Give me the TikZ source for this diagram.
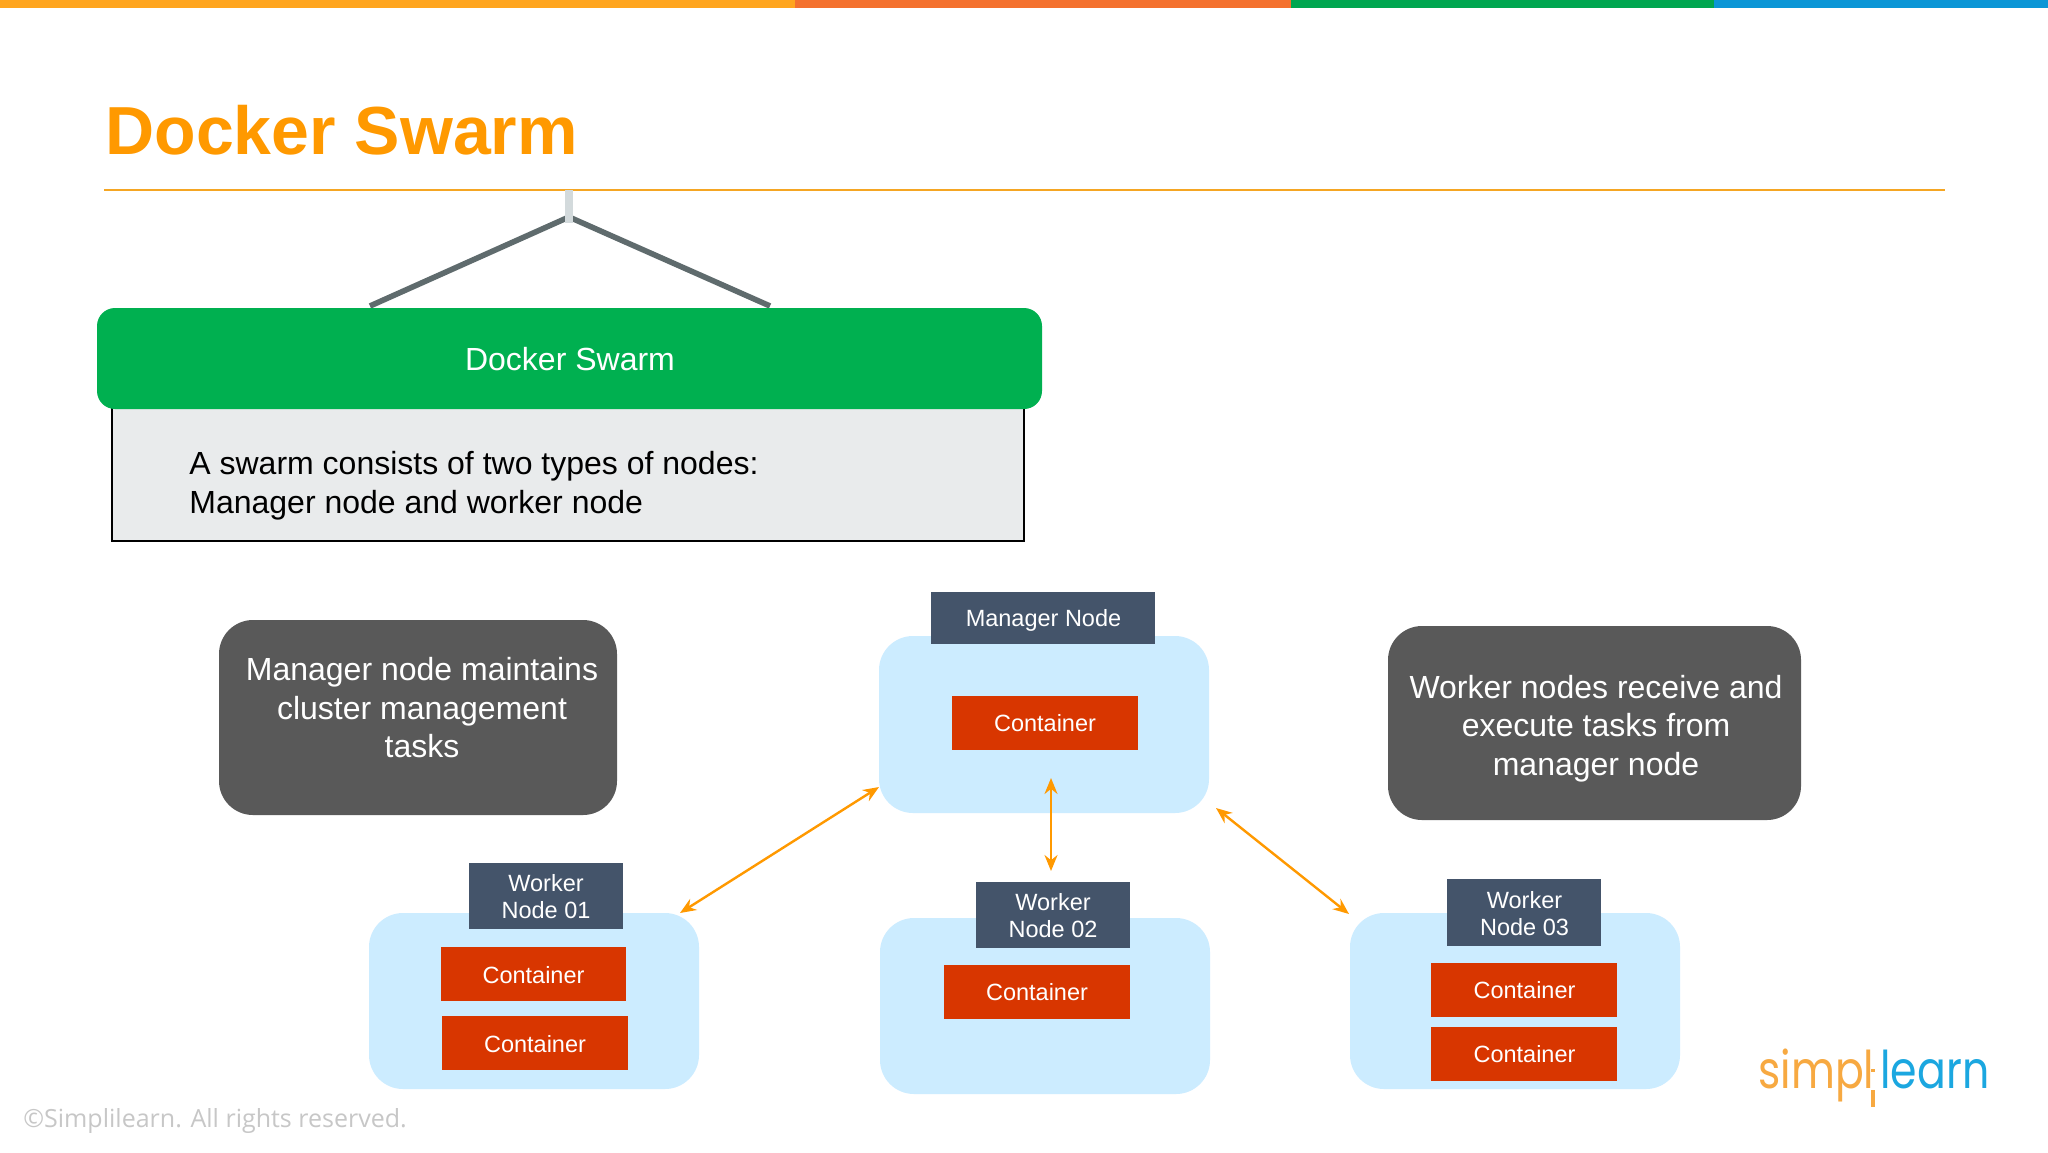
\documentclass[tikz,border=0pt]{standalone}
\usepackage{fontspec}
\usepackage{graphicx}
\setmainfont{Liberation Sans}
\newfontfamily\copyfont{Open Sans}
\newfontfamily\logofont{Poppins}
\usetikzlibrary{arrows.meta}
\definecolor{barA}{HTML}{FFA51E}
\definecolor{barB}{HTML}{F4712E}
\definecolor{barC}{HTML}{00A650}
\definecolor{barD}{HTML}{0B96D6}
\definecolor{titleOr}{HTML}{FF9900}
\definecolor{ruleOr}{HTML}{F5A623}
\definecolor{greenBox}{HTML}{00B050}
\definecolor{greyBox}{HTML}{E9EBEC}
\definecolor{darkBox}{HTML}{595959}
\definecolor{lightBlue}{HTML}{CCECFF}
\definecolor{slate}{HTML}{44546A}
\definecolor{contRed}{HTML}{D83600}
\definecolor{stub}{HTML}{D3DADC}
\definecolor{hang}{HTML}{5F6B6D}
\definecolor{logoOr}{HTML}{F7A941}
\definecolor{logoBl}{HTML}{1BA7E0}
\tikzset{
  x=0.5pt,y=-0.5pt,
  greenhead/.style={fill=greenBox,rounded corners=9pt},
  headtext/.style={text=white,inner sep=0pt,font=\fontsize{16}{19}\selectfont},
  greybody/.style={fill=greyBox,draw=black,line width=0.8pt},
  darkbox/.style={fill=darkBox,rounded corners=17pt},
  darktext/.style={text=white,inner sep=0pt,align=center,font=\fontsize{16}{19.25}\selectfont},
  bluebox/.style={fill=lightBlue,rounded corners=17pt},
  labelbox/.style={fill=slate},
  labeltext/.style={text=white,inner sep=0pt,align=center,font=\fontsize{11.75}{13.8}\selectfont},
  contbox/.style={fill=contRed},
  conttext/.style={text=white,inner sep=0pt,font=\fontsize{11.75}{14}\selectfont},
  biarrow/.style={draw=titleOr,line width=1.2pt,{Stealth[length=8pt,width=6.5pt]}-{Stealth[length=8pt,width=6.5pt]}},
  hangline/.style={draw=hang,line width=2.8pt},
}
\newcommand{\pxbox}[7]{%
  \pgfmathsetmacro\pxw{(#5-#3)*0.5}\pgfmathsetmacro\pxh{(#6-#4)*0.5}%
  \pgfmathsetmacro\pxx{(#3+#5)/2}\pgfmathsetmacro\pxy{(#4+#6)/2}%
  \node[#2,minimum width=\pxw pt,minimum height=\pxh pt,inner sep=0pt,outer sep=0pt] (#1) at (\pxx,\pxy) {#7};}
\begin{document}
\begin{tikzpicture}
\useasboundingbox (0,0) rectangle (2048,1152);
\fill[white] (0,0) rectangle (2048,1152);
% top bar
\fill[barA] (0,0) rectangle (795,8);
\fill[barB] (795,0) rectangle (1291,8);
\fill[barC] (1291,0) rectangle (1714,8);
\fill[barD] (1714,0) rectangle (2048,8);
% title
\node[anchor=base west,inner sep=0pt,text=titleOr,font=\fontsize{34}{40}\selectfont\bfseries] (title) at (105,154) {Docker Swarm};
\draw[ruleOr,line width=1.2pt] (104,190) -- (1945,190);
% hanger
\coordinate (peak) at (569,217);
\coordinate (hangL) at (370,306);
\coordinate (hangR) at (770,306);
\coordinate (stubTop) at (569,190);
\coordinate (stubEnd) at (569,223);
\draw[hangline] (hangL) -- (peak) -- (hangR);
\draw[stub,line width=4pt] (stubTop) -- (stubEnd);
% header card
\pxbox{body}{greybody}{112}{405}{1024}{541}{}
\pxbox{head}{greenhead}{97}{308}{1042}{409}{}
\node[headtext] (headT) at (570,359.5) {Docker Swarm};
\node[anchor=west,inner sep=0pt,align=left,font=\fontsize{16}{19.25}\selectfont] (bodytext) at (189,485.5) {A swarm consists of two types of nodes:\\Manager node and worker node};
% side notes
\pxbox{noteL}{darkbox}{219}{620}{617}{815}{}
\node[darktext] (noteLT) at (422,708) {Manager node maintains\\cluster management\\tasks};
\pxbox{noteR}{darkbox}{1388}{626}{1801}{820}{}
\node[darktext] (noteRT) at (1596,728.5) {Worker nodes receive and\\execute tasks from\\manager node};
% manager
\pxbox{mgr}{bluebox}{879}{636}{1209}{813}{}
\pxbox{mgrL}{labelbox}{931}{592}{1155}{644}{}
\node[labeltext] (mgrLT) at (1043.5,620) {Manager Node};
\pxbox{mgrC}{contbox}{952}{696}{1138}{750}{}
\node[conttext] (mgrCT) at (1045,723) {Container};
% worker 1
\pxbox{wa}{bluebox}{369}{913}{699}{1089}{}
\pxbox{waL}{labelbox}{469}{863}{623}{929}{}
\node[labeltext] (waLT) at (546,896.5) {Worker\\Node 01};
\pxbox{waC}{contbox}{441}{947}{626}{1001}{}
\node[conttext] (waCT) at (533.5,975.5) {Container};
\pxbox{waD}{contbox}{442}{1016}{628}{1070}{}
\node[conttext] (waDT) at (535,1044) {Container};
% worker 2
\pxbox{wb}{bluebox}{880}{918}{1210}{1094}{}
\pxbox{wbL}{labelbox}{976}{882}{1130}{948}{}
\node[labeltext] (wbLT) at (1053,915.5) {Worker\\Node 02};
\pxbox{wbC}{contbox}{944}{965}{1130}{1019}{}
\node[conttext] (wbCT) at (1037,992.5) {Container};
% worker 3
\pxbox{wc}{bluebox}{1350}{913}{1680}{1089}{}
\pxbox{wcL}{labelbox}{1447}{879}{1601}{946}{}
\node[labeltext] (wcLT) at (1524.5,913.5) {Worker\\Node 03};
\pxbox{wcC}{contbox}{1431}{963}{1617}{1017}{}
\node[conttext] (wcCT) at (1524.5,990.5) {Container};
\pxbox{wcD}{contbox}{1431}{1027}{1617}{1081}{}
\node[conttext] (wcDT) at (1524.5,1054.5) {Container};
% arrows
\coordinate (aMgrL) at (879,787);
\coordinate (aWa) at (680,913);
\coordinate (aMgrB) at (1051,778);
\coordinate (aWb) at (1051,871);
\coordinate (aMgrR) at (1216,808);
\coordinate (aWc) at (1349,914);
\draw[biarrow] (aMgrL) -- (aWa);
\draw[biarrow] (aMgrB) -- (aWb);
\draw[biarrow] (aMgrR) -- (aWc);
% footer
\node[anchor=base west,inner sep=0pt,text=black!22,font=\copyfont\fontsize{12.5}{15}\selectfont] (copy) at (23,1127) {©Simplilearn. All rights reserved.};
% logo
\node[anchor=base west,inner sep=0pt,text=logoOr,font=\logofont\fontsize{26}{30}\selectfont] (logoA) at (1758,1088) {\scalebox{0.82}[1]{simpl}};
\node[anchor=base west,inner sep=0pt,text=logoBl,font=\logofont\fontsize{26}{30}\selectfont] (logoB) at (1880,1088) {\scalebox{0.82}[1]{learn}};
\fill[logoOr] (1871,1090) rectangle (1875,1107);
\fill[logoOr] (1871,1069) rectangle (1875,1072);
\end{tikzpicture}
\end{document}
